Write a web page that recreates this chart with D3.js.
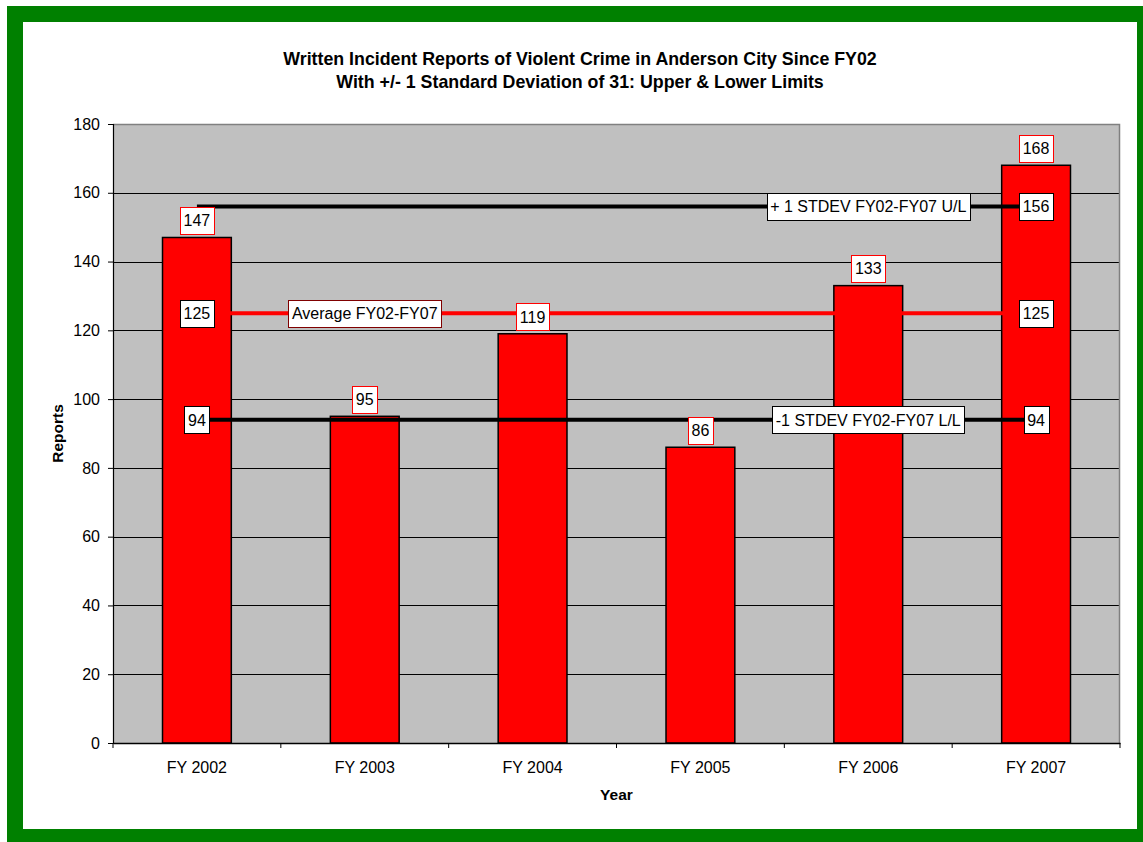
<!DOCTYPE html>
<html>
<head>
<meta charset="utf-8">
<script src="https://cdn.jsdelivr.net/npm/d3@7"></script>
<style>
  html, body { margin: 0; padding: 0; background: #fff; }
  svg text { font-family: Arial, "Liberation Sans", sans-serif; }
</style>
</head>
<body>
<svg id="chart" width="1143" height="842"></svg>
<script>
// ---- data ----
const years = ["FY 2002", "FY 2003", "FY 2004", "FY 2005", "FY 2006", "FY 2007"];
const reports = [147, 95, 119, 86, 133, 168];
const average = [125, 125, 125, 125, 125, 125];
const upperLimit = [156, 156, 156, 156, 156, 156];
const lowerLimit = [94, 94, 94, 94, 94, 94];
const averageLabels = ["125", "Average FY02-FY07", "", "", "", "125"];
const upperLabels = ["", "", "", "", "+ 1 STDEV FY02-FY07 U/L", "156"];
const lowerLabels = ["94", "", "", "", "-1 STDEV FY02-FY07 L/L", "94"];
const yTicks = [0, 20, 40, 60, 80, 100, 120, 140, 160, 180];
const titleLines = [
  "Written Incident Reports of Violent Crime in Anderson City Since FY02",
  "With +/- 1 Standard Deviation of 31: Upper & Lower Limits"
];

const svg = d3.select("#chart");
const W = 1143, H = 842;

// frame
svg.append("rect").attr("x", 7).attr("y", 6).attr("width", W - 7 + 10).attr("height", H - 6 + 10).attr("fill", "#008000");
svg.append("rect").attr("x", 23).attr("y", 22).attr("width", 1137 - 23).attr("height", 829 - 22).attr("fill", "#ffffff");

const plot = { left: 113, right: 1120, top: 124, bottom: 743 };

const x = d3.scaleBand().domain(years).range([plot.left, plot.right]).paddingInner(0.59).paddingOuter(0.295);
const xBand = d3.scaleBand().domain(years).range([plot.left, plot.right]).padding(0);
const y = d3.scaleLinear().domain([0, 180]).range([plot.bottom, plot.top]);
const cx = d => xBand(d) + xBand.bandwidth() / 2;

// plot area background
svg.append("rect").attr("x", plot.left).attr("y", plot.top)
  .attr("width", plot.right - plot.left).attr("height", plot.bottom - plot.top)
  .attr("fill", "#C0C0C0");

// gridlines
svg.append("g").selectAll("line").data(yTicks.filter(t => t > 0 && t < 180)).join("line")
  .attr("x1", plot.left).attr("x2", plot.right)
  .attr("y1", d => Math.round(y(d)) + 0.5).attr("y2", d => Math.round(y(d)) + 0.5)
  .attr("stroke", "#000").attr("stroke-width", 1);

// plot border top/right
svg.append("path")
  .attr("d", `M${plot.left},${plot.top + 0.5}H${plot.right - 0.5}V${plot.bottom}`)
  .attr("fill", "none").attr("stroke", "#808080").attr("stroke-width", 1.5);

// bars
svg.append("g").selectAll("rect").data(reports).join("rect")
  .attr("x", (d, i) => x(years[i]))
  .attr("width", x.bandwidth())
  .attr("y", d => y(d))
  .attr("height", d => y(0) - y(d))
  .attr("fill", "#FF0000").attr("stroke", "#000").attr("stroke-width", 1.5);

// axes
const yAxis = d3.axisLeft(y).tickValues(yTicks).tickSize(5).tickPadding(8);
const gy = svg.append("g").attr("transform", `translate(${plot.left},0)`).call(yAxis);
gy.select(".domain").attr("stroke", "#000").attr("stroke-width", 1.2);
gy.selectAll(".tick line").attr("stroke", "#000");
gy.selectAll(".tick text").attr("font-size", 16).attr("fill", "#000")
  .attr("font-family", "Arial, 'Liberation Sans', sans-serif");

const gx = svg.append("g").attr("transform", `translate(0,${plot.bottom})`)
  .call(d3.axisBottom(xBand).tickSize(0).tickPadding(19));
gx.select(".domain").attr("stroke", "#000").attr("stroke-width", 1.5);
gx.selectAll(".tick text").attr("font-size", 16).attr("fill", "#000")
  .attr("font-family", "Arial, 'Liberation Sans', sans-serif");
// category boundary ticks
svg.append("g").selectAll("line").data(years.concat(["end"])).join("line")
  .attr("x1", (d, i) => i < years.length ? xBand(d) : plot.right)
  .attr("x2", (d, i) => i < years.length ? xBand(d) : plot.right)
  .attr("y1", plot.bottom).attr("y2", plot.bottom + 5)
  .attr("stroke", "#000").attr("stroke-width", 1);

// reference lines
const line = d3.line().x((d, i) => cx(years[i])).y(d => y(d));
const series = [
  { values: upperLimit, color: "#000", labels: upperLabels, nameStroke: "#000" },
  { values: average, color: "#FF0000", labels: averageLabels, nameStroke: "#800000" },
  { values: lowerLimit, color: "#000", labels: lowerLabels, nameStroke: "#000" }
];
series.forEach(s => {
  svg.append("path").datum(s.values).attr("d", line)
    .attr("fill", "none").attr("stroke", s.color).attr("stroke-width", 4);
});

// label box helper
function labelBox(g, cxp, cyp, text, stroke) {
  const grp = g.append("g");
  const t = grp.append("text").attr("x", cxp).attr("y", cyp).attr("text-anchor", "middle")
    .attr("dy", "0.36em").attr("font-size", 16).attr("fill", "#000").text(text);
  const bb = t.node().getBBox();
  const padX = 3.5, h = 27;
  grp.insert("rect", "text")
    .attr("x", Math.round(cxp - bb.width / 2 - padX) + 0.5)
    .attr("y", Math.round(cyp - h / 2) + 0.5)
    .attr("width", Math.round(bb.width + 2 * padX))
    .attr("height", h)
    .attr("fill", "#fff").attr("stroke", stroke).attr("stroke-width", 1);
}

const labels = svg.append("g");
series.forEach(s => {
  s.labels.forEach((lab, i) => {
    if (!lab) return;
    const isName = isNaN(+lab);
    labelBox(labels, cx(years[i]), y(s.values[i]), lab, isName ? s.nameStroke : "#000");
  });
});

// bar labels
reports.forEach((v, i) => {
  labelBox(labels, cx(years[i]), y(v) - 17, String(v), "#FF0000");
});

// titles
svg.append("text").attr("x", 580).attr("y", 65).attr("text-anchor", "middle")
  .attr("font-size", 17.8).attr("font-weight", "bold").text(titleLines[0]);
svg.append("text").attr("x", 580).attr("y", 88).attr("text-anchor", "middle")
  .attr("font-size", 17.8).attr("font-weight", "bold").text(titleLines[1]);

svg.append("text").attr("x", (plot.left + plot.right) / 2).attr("y", 800).attr("text-anchor", "middle")
  .attr("font-size", 15.5).attr("font-weight", "bold").text("Year");
svg.append("text")
  .attr("transform", `translate(63,${(plot.top + plot.bottom) / 2}) rotate(-90)`)
  .attr("text-anchor", "middle").attr("font-size", 15.5).attr("font-weight", "bold").text("Reports");
</script>
</body>
</html>
